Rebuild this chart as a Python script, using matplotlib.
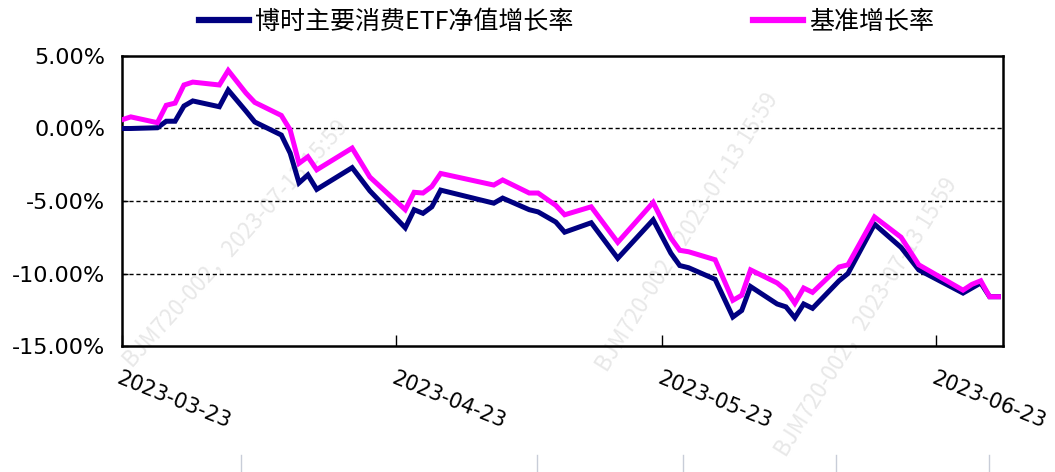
import numpy as np
import pandas as pd
import matplotlib
matplotlib.use('Agg')
import matplotlib.pyplot as plt
from matplotlib.lines import Line2D
from matplotlib.ticker import FuncFormatter

# 数据 (单位: %)
dates = ['2023-03-23', '2023-03-24', '2023-03-27', '2023-03-28', '2023-03-29', '2023-03-30', '2023-03-31',
         '2023-04-03', '2023-04-04', '2023-04-06', '2023-04-07', '2023-04-10', '2023-04-11', '2023-04-12',
         '2023-04-13', '2023-04-14', '2023-04-18', '2023-04-20', '2023-04-24', '2023-04-25', '2023-04-26',
         '2023-04-27', '2023-04-28',
         '2023-05-04', '2023-05-05', '2023-05-08', '2023-05-09', '2023-05-11', '2023-05-12', '2023-05-15',
         '2023-05-18', '2023-05-22', '2023-05-24', '2023-05-25', '2023-05-26', '2023-05-29', '2023-05-31',
         '2023-06-01', '2023-06-02', '2023-06-05', '2023-06-06', '2023-06-07', '2023-06-08', '2023-06-09',
         '2023-06-12', '2023-06-13', '2023-06-16', '2023-06-19', '2023-06-21', '2023-06-26', '2023-06-27',
         '2023-06-28', '2023-06-29', '2023-06-30']

fund = [0.00, 0.00, 0.05, 0.50, 0.50, 1.55, 1.90,
        1.50, 2.65, 1.20, 0.45, -0.45, -1.70, -3.75, -3.20, -4.20, -2.70, -4.30, -6.85, -5.60, -5.85,
        -5.40, -4.25,
        -5.15, -4.80, -5.60, -5.75, -6.45, -7.15, -6.50, -8.95, -6.30, -8.60, -9.45, -9.60, -10.40, -13.00,
        -12.55, -10.90, -12.10, -12.30, -13.05, -12.10, -12.40, -10.50, -10.00, -6.60, -8.20, -9.75,
        -11.35, -11.00, -10.65, -11.60, -11.60]

bench = [0.60, 0.80, 0.40, 1.60, 1.75, 3.00, 3.20,
         3.00, 4.00, 2.45, 1.80, 0.90, -0.10, -2.40, -1.95, -2.85, -1.35, -3.35, -5.60, -4.40, -4.45,
         -4.00, -3.10,
         -3.90, -3.55, -4.45, -4.45, -5.30, -5.95, -5.40, -7.85, -5.10, -7.55, -8.40, -8.50, -9.05, -11.85,
         -11.50, -9.75, -10.65, -11.15, -12.05, -11.00, -11.30, -9.55, -9.40, -6.10, -7.50, -9.40,
         -11.15, -10.75, -10.50, -11.60, -11.60]

xticks = ['2023-03-23', '2023-04-23', '2023-05-23', '2023-06-23']
labels = ['博时主要消费ETF净值增长率', '基准增长率']
watermark = 'BJM720-002，2023-07-13 15:59'

x = pd.to_datetime(dates)

fig = plt.figure(figsize=(10.55, 4.72), dpi=100)
ax = fig.add_axes([0.1156, 0.2669, 0.835, 0.6145])

ax.plot(x, fund, color='#000080', lw=3.6, label=labels[0], solid_joinstyle='miter', zorder=3)
ax.plot(x, bench, color='#FF00FF', lw=3.6, label=labels[1], solid_joinstyle='miter', zorder=4)

ax.set_ylim(-15, 5)
ax.set_yticks([5, 0, -5, -10, -15])
ax.yaxis.set_major_formatter(FuncFormatter(lambda v, p: '%.2f%%' % v))
for v in [0, -5, -10]:
    ax.axhline(v, color='black', lw=1, ls=(0, (3, 2)), zorder=1)

ax.set_xlim(pd.Timestamp('2023-03-23'), pd.Timestamp('2023-06-30 12:00'))
ax.set_xticks(pd.to_datetime(xticks))
ax.set_xticklabels(xticks)
ax.tick_params(axis='x', direction='in', length=8, width=1, pad=16, labelsize=15)
ax.tick_params(axis='y', direction='in', length=4, width=1, pad=12, labelsize=16)
plt.setp(ax.get_xticklabels(), rotation=-22, ha='left', va='top', rotation_mode='anchor')

for s in ax.spines.values():
    s.set_linewidth(1.8)
    s.set_color('black')

leg = ax.legend(loc='center', bbox_to_anchor=(0.537, 0.953), bbox_transform=fig.transFigure,
                ncol=2, frameon=False, handlelength=2.0, handletextpad=0.25, columnspacing=7.2,
                prop={'family': ['Noto Sans CJK SC', 'DejaVu Sans'], 'size': 18})
for h in leg.get_lines():
    h.set_linewidth(4.5)

# 水印 (画在曲线下面)
for (wx, wy, rot) in [(0.125, 0.22, 48), (0.575, 0.21, 58), (0.745, 0.03, 58)]:
    ax.text(wx, wy, watermark, transform=fig.transFigure, rotation=rot, fontsize=16,
            color='#e8e8e8', ha='left', va='baseline', rotation_mode='anchor',
            zorder=0.5, clip_on=False, family=['Noto Sans CJK SC', 'DejaVu Sans'])

# 底部表格边线
for px in [241, 537, 683, 836, 989]:
    fig.add_artist(Line2D([px / 1055, px / 1055], [0, 17 / 472], color='#c8cdd8', lw=1))

fig.savefig('out.png', dpi=100)
